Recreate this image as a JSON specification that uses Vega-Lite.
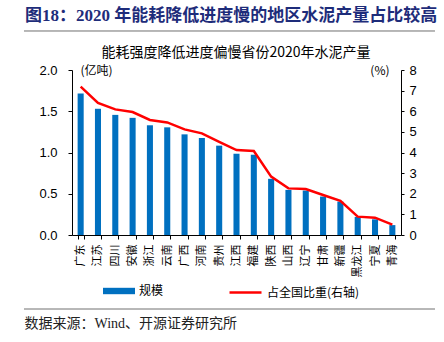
{
  "$schema": "https://vega.github.io/schema/vega-lite/v6.json",
  "width": 329,
  "height": 165,
  "autosize": "none",
  "padding": {"left": 72, "top": 70, "right": 43, "bottom": 107},
  "background": "white",
  "title": {
    "text": "图18：2020 年能耗降低进度慢的地区水泥产量占比较高",
    "anchor": "start",
    "frame": "group",
    "dx": -47,
    "offset": 5,
    "font": "Liberation Serif, Noto Sans CJK SC",
    "fontSize": 17,
    "fontWeight": "bold",
    "color": "#1E2C7A"
  },
  "config": {
    "view": {"stroke": null},
    "axis": {"domainColor": "#000000", "tickColor": "#000000", "labelColor": "#000000", "labelFont": "Liberation Sans", "grid": false}
  },
  "layer": [
    {
      "data": {
        "values": [
          {"region": "广东", "scale": 1.715, "share": 7.19},
          {"region": "江苏", "scale": 1.53, "share": 6.41},
          {"region": "四川", "scale": 1.456, "share": 6.09},
          {"region": "安徽", "scale": 1.42, "share": 5.96},
          {"region": "浙江", "scale": 1.33, "share": 5.58},
          {"region": "云南", "scale": 1.305, "share": 5.46},
          {"region": "广西", "scale": 1.22, "share": 5.12},
          {"region": "河南", "scale": 1.176, "share": 4.93},
          {"region": "贵州", "scale": 1.083, "share": 4.52},
          {"region": "江西", "scale": 0.985, "share": 4.12},
          {"region": "福建", "scale": 0.973, "share": 4.07},
          {"region": "陕西", "scale": 0.681, "share": 2.83},
          {"region": "山西", "scale": 0.547, "share": 2.26},
          {"region": "辽宁", "scale": 0.539, "share": 2.23},
          {"region": "甘肃", "scale": 0.466, "share": 1.94},
          {"region": "新疆", "scale": 0.405, "share": 1.66},
          {"region": "黑龙江", "scale": 0.219, "share": 0.89},
          {"region": "宁夏", "scale": 0.19, "share": 0.84},
          {"region": "青海", "scale": 0.12, "share": 0.5}
        ]
      },
      "layer": [
        {
          "mark": {"type": "bar", "color": "#0070C0"},
          "encoding": {
            "x": {
              "field": "region", "type": "nominal", "sort": null,
              "scale": {"paddingInner": 0.65, "paddingOuter": 0.325},
              "axis": {
                "title": null, "labelAngle": 270, "labelFont": "Noto Sans CJK SC", "labelFontSize": 11,
                "labelPadding": 5, "tickSize": 4, "tickBand": "extent"
              }
            },
            "y": {
              "field": "scale", "type": "quantitative",
              "scale": {"domain": [0, 2], "nice": false},
              "axis": {
                "values": [0, 0.5, 1, 1.5, 2], "format": ".1f", "labelFontSize": 13,
                "tickSize": 4, "labelPadding": 11,
                "title": "(亿吨)", "titleAngle": 0, "titleX": 8, "titleY": 0,
                "titleAlign": "left", "titleBaseline": "middle",
                "titleFont": "Noto Sans CJK SC", "titleFontSize": 12, "titleFontWeight": "normal", "titleColor": "#000000"
              }
            },
            "fill": {
              "datum": "规模",
              "scale": {"range": ["#0070C0"]},
              "legend": {
                "orient": "none", "legendX": 31, "legendY": 205, "title": null,
                "symbolType": "M-1,-0.2H1V0.2H-1Z", "symbolSize": 1024, "symbolStrokeWidth": 0,
                "labelFont": "Noto Sans CJK SC", "labelFontSize": 12, "labelOffset": 4, "labelColor": "#000000"
              }
            }
          }
        },
        {
          "mark": {"type": "line", "strokeWidth": 2.5},
          "encoding": {
            "x": {"field": "region", "type": "nominal", "sort": null},
            "y": {
              "field": "share", "type": "quantitative",
              "scale": {"domain": [0, 8], "nice": false},
              "axis": {
                "orient": "right", "values": [0, 1, 2, 3, 4, 5, 6, 7, 8], "format": "d", "labelFontSize": 13,
                "tickSize": 3, "labelPadding": 5,
                "title": "(%)", "titleAngle": 0, "titleX": -12, "titleY": 0,
                "titleAlign": "right", "titleBaseline": "middle",
                "titleFont": "Noto Sans CJK SC", "titleFontSize": 12, "titleFontWeight": "normal", "titleColor": "#000000"
              }
            },
            "stroke": {
              "datum": "占全国比重(右轴)",
              "scale": {"range": ["#FF0000"]},
              "legend": {
                "orient": "none", "legendX": 156, "legendY": 205, "title": null,
                "symbolType": "stroke", "symbolSize": 1024, "symbolStrokeWidth": 2.5,
                "labelFont": "Noto Sans CJK SC", "labelFontSize": 12, "labelOffset": 4, "labelColor": "#000000"
              }
            }
          }
        }
      ],
      "resolve": {"scale": {"y": "independent"}}
    },
    {
      "data": {"values": [{"v": 0}, {"v": 1}]},
      "mark": {"type": "point", "opacity": 0},
      "encoding": {
        "x": {
          "field": "v", "type": "quantitative",
          "scale": {"domain": [0, 1], "nice": false, "zero": false},
          "axis": {
            "orient": "top", "offset": 39, "domain": false,
            "ticks": false, "labels": false, "grid": false,
            "title": "能耗强度降低进度偏慢省份2020年水泥产量",
            "titleX": 163.5, "titleY": 25, "titleAlign": "center", "titleBaseline": "alphabetic",
            "titleFont": "Noto Sans CJK SC", "titleFontSize": 14, "titleFontWeight": "normal", "titleColor": "#000000"
          }
        }
      }
    },
    {
      "data": {"values": [{"v": 0}, {"v": 1}]},
      "mark": {"type": "point", "opacity": 0},
      "encoding": {
        "x": {
          "field": "v", "type": "quantitative",
          "scale": {"domain": [0, 1], "nice": false, "zero": false},
          "axis": {
            "orient": "bottom", "offset": 74, "domain": false,
            "ticks": false, "labels": false, "grid": false,
            "title": "数据来源：Wind、开源证券研究所",
            "titleX": -48, "titleY": 18, "titleAlign": "left", "titleBaseline": "alphabetic",
            "titleFont": "Liberation Serif, Noto Sans CJK SC", "titleFontSize": 14, "titleFontWeight": "normal", "titleColor": "#222222"
          }
        }
      }
    },
    {
      "data": {"values": [{"p": 0, "a": 0, "b": 1}, {"p": 1, "a": 0, "b": 1}]},
      "mark": {"type": "rule", "color": "#707070", "strokeWidth": 1, "clip": false},
      "encoding": {
        "x": {"field": "a", "type": "quantitative", "scale": {"domain": [0.1168, 0.9173], "nice": false, "zero": false}, "axis": null},
        "x2": {"field": "b"},
        "y": {"field": "p", "type": "quantitative", "scale": {"domain": [0.2662, 0.8597], "nice": false, "zero": false}, "axis": null}
      }
    }
  ],
  "resolve": {"scale": {"x": "independent", "y": "independent"}}
}
